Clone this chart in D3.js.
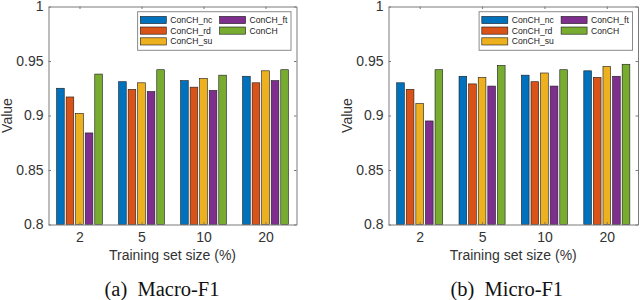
<!DOCTYPE html>
<html><head><meta charset="utf-8">
<script src="https://cdn.jsdelivr.net/npm/d3@7"></script>
<style>body{margin:0;background:#fff}svg{display:block}</style>
</head><body><svg id="c" width="640" height="300"></svg>
<script>
const categories = ["2", "5", "10", "20"];
const seriesNames = ["ConCH_nc", "ConCH_rd", "ConCH_su", "ConCH_ft", "ConCH"];
const seriesColors = ["#0072BD", "#D95319", "#EDB120", "#7E2F8E", "#77AC30"];
const macroNc = [0.925, 0.931, 0.932, 0.936];
const macroRd = [0.917, 0.924, 0.926, 0.930];
const macroSu = [0.902, 0.930, 0.934, 0.941];
const macroFt = [0.884, 0.922, 0.923, 0.932];
const macroConCH = [0.938, 0.942, 0.937, 0.942];
const microNc = [0.930, 0.936, 0.937, 0.941];
const microRd = [0.924, 0.929, 0.931, 0.935];
const microSu = [0.911, 0.935, 0.939, 0.945];
const microFt = [0.895, 0.927, 0.927, 0.936];
const microConCH = [0.942, 0.946, 0.942, 0.947];
const yTicks = [0.8, 0.85, 0.9, 0.95, 1];
const yTitle = "Value";
const xTitle = "Training set size (%)";
const captions = ["(a)\u00a0 Macro-F1", "(b)\u00a0 Micro-F1"];

const svg = d3.select("#c");
const axisColor = "#7a7a7a";
const textColor = "#333";
const font = "'Liberation Sans', Arial, Helvetica, sans-serif";

function panel(series, left, right, caption, capOffset) {
  const top = 6.5, bottom = 224.5;
  const x = d3.scaleLinear().domain([0.5, 4.5]).range([left, right]);
  const y = d3.scaleLinear().domain([0.8, 1]).range([bottom, top]);
  const g = svg.append("g");
  const nS = series.length;
  const groupW = Math.min(0.8, nS / (nS + 1.5));
  const slot = groupW / nS;
  const barW = slot * 0.8;
  series.forEach((vals, si) => {
    g.selectAll(null).data(vals).enter().append("rect")
      .attr("x", (d, i) => x(i + 1 - groupW / 2 + slot * si + (slot - barW) / 2))
      .attr("width", x(barW) - x(0))
      .attr("y", d => y(d))
      .attr("height", d => y(0.8) - y(d))
      .attr("fill", seriesColors[si])
      .attr("stroke", "#1a1a1a").attr("stroke-width", 0.6);
  });
  const yAxisL = d3.axisLeft(y).tickValues(yTicks).tickFormat(d => String(d)).tickSizeInner(-2.5).tickSizeOuter(0).tickPadding(5);
  const yAxisR = d3.axisRight(y).tickValues(yTicks).tickFormat("").tickSizeInner(-2.5).tickSizeOuter(0);
  const xAxisB = d3.axisBottom(x).tickValues([1, 2, 3, 4]).tickFormat((d) => categories[d - 1]).tickSizeInner(-2.5).tickSizeOuter(0).tickPadding(8);
  const xAxisT = d3.axisTop(x).tickValues([1, 2, 3, 4]).tickFormat("").tickSizeInner(-2.5).tickSizeOuter(0);
  const axes = [
    g.append("g").attr("transform", `translate(${left},0)`).call(yAxisL),
    g.append("g").attr("transform", `translate(${right},0)`).call(yAxisR),
    g.append("g").attr("transform", `translate(0,${bottom})`).call(xAxisB),
    g.append("g").attr("transform", `translate(0,${top})`).call(xAxisT)
  ];
  axes.forEach(a => {
    a.selectAll("path.domain").attr("stroke", axisColor).attr("stroke-width", 1);
    a.selectAll(".tick line").attr("stroke", axisColor).attr("stroke-width", 1);
    a.selectAll(".tick text").attr("fill", textColor).style("font-family", font).style("font-size", "14px");
  });
  g.append("text").attr("x", (left + right) / 2).attr("y", 260)
    .attr("text-anchor", "middle").attr("fill", textColor)
    .style("font-family", font).style("font-size", "14px").text(xTitle);
  g.append("text").attr("transform", `translate(${left - 37},${(top + bottom) / 2}) rotate(-90)`)
    .attr("text-anchor", "middle").attr("fill", textColor)
    .style("font-family", font).style("font-size", "14px").text(yTitle);
  g.append("text").attr("x", (left + right) / 2 + capOffset).attr("y", 295.5)
    .attr("text-anchor", "middle").attr("fill", "#111")
    .style("font-family", "'Liberation Serif', 'Times New Roman', serif").style("font-size", "20.5px").text(caption);
  const lw = 153.4, lx = right - 5.5 - lw, ly = 11.7, lh = 38.6;
  const lg = g.append("g");
  lg.append("rect").attr("x", lx).attr("y", ly).attr("width", lw).attr("height", lh)
    .attr("fill", "#fff").attr("stroke", "#8a8a8a").attr("stroke-width", 1);
  const rows = [20, 30.6, 41.4];
  seriesNames.forEach((name, i) => {
    const col = i < 3 ? 0 : 1;
    const row = i < 3 ? i : i - 3;
    const sx = lx + (col === 0 ? 2.7 : 82);
    const cy = rows[row];
    lg.append("rect").attr("x", sx).attr("y", cy - 3.6).attr("width", 26).attr("height", 7.2)
      .attr("fill", seriesColors[i]).attr("stroke", "#1a1a1a").attr("stroke-width", 0.6);
    lg.append("text").attr("x", sx + 30).attr("y", cy + 3)
      .attr("fill", "#222").style("font-family", font).style("font-size", "8.6px").text(name);
  });
}

panel([macroNc, macroRd, macroSu, macroFt, macroConCH], 48.5, 296.5, captions[0], -10.5);
panel([microNc, microRd, microSu, microFt, microConCH], 388.5, 638, captions[1], -6.5);
</script></body></html>
